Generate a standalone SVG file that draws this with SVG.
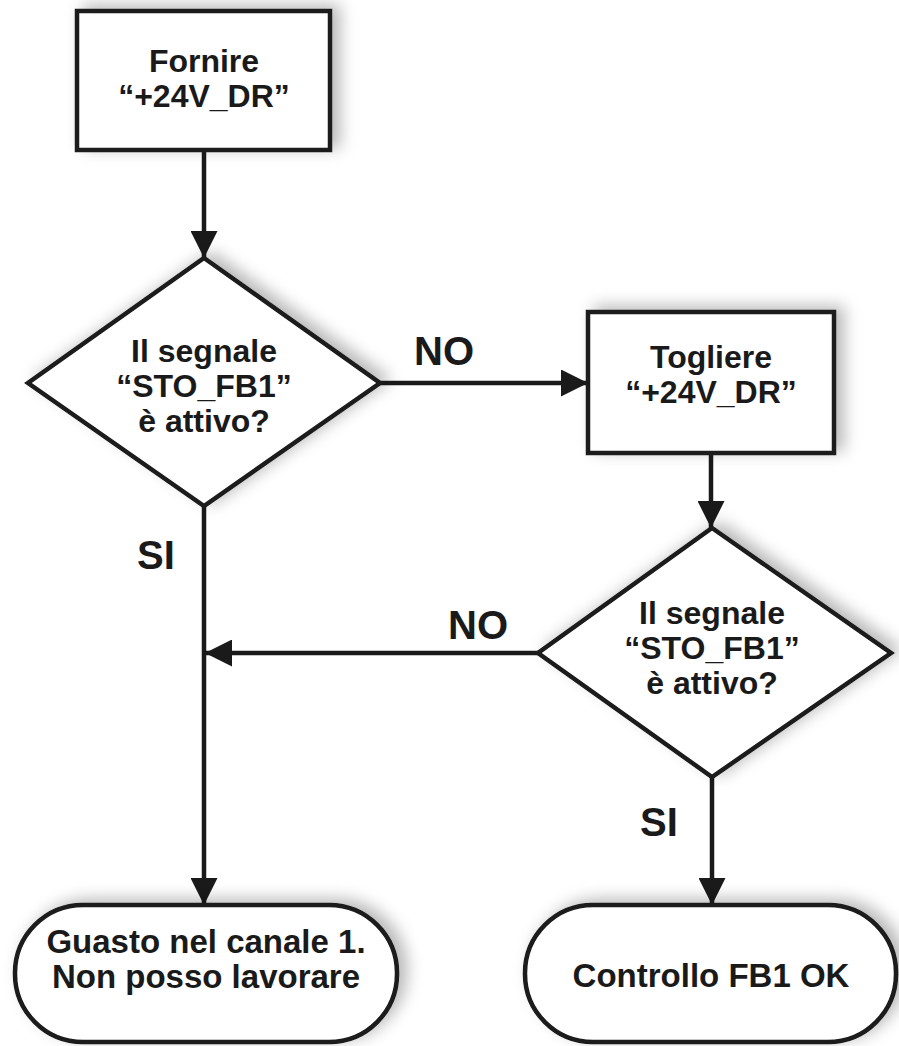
<svg xmlns="http://www.w3.org/2000/svg" width="899" height="1046" viewBox="0 0 899 1046">
<defs>
<filter id="sh" x="-20%" y="-20%" width="140%" height="140%">
<feDropShadow dx="8" dy="-4" stdDeviation="8" flood-color="#000" flood-opacity="0.28"/>
</filter>
<marker id="ah" markerUnits="userSpaceOnUse" markerWidth="27" markerHeight="27" viewBox="0 0 24 24" refX="24" refY="12" orient="auto">
<path d="M0,0 L24,12 L0,24 z" fill="#1a1a1a"/>
</marker>
<style>
.shape{fill:#fff;stroke:#1a1a1a;stroke-width:4.5;filter:url(#sh)}
.t{font-family:"Liberation Sans",Arial,sans-serif;font-weight:bold;font-size:32px;fill:#1a1a1a;text-anchor:middle}
.tt{font-size:33px}
.lbl{font-family:"Liberation Sans",Arial,sans-serif;font-weight:bold;font-size:40px;fill:#1a1a1a;text-anchor:middle}
.c{stroke:#1a1a1a;stroke-width:4.5;fill:none;marker-end:url(#ah)}
</style>
</defs>
<rect width="899" height="1046" fill="#fff"/>
<g id="connectors">
<line class="c" x1="204" y1="150" x2="204" y2="258"/>
<line class="c" x1="380" y1="383" x2="588" y2="383"/>
<line class="c" x1="711" y1="453" x2="711" y2="528"/>
<line class="c" x1="538" y1="653" x2="205" y2="653"/>
<line class="c" x1="204" y1="506" x2="204" y2="905"/>
<line class="c" x1="712" y1="777" x2="712" y2="905"/>
<text class="lbl" x="444" y="365">NO</text>
<text class="lbl" x="478" y="639">NO</text>
<text class="lbl" x="156" y="569">SI</text>
<text class="lbl" x="659" y="836">SI</text>
</g>
<g id="fornire">
<rect class="shape" x="77" y="11" width="253" height="139"/>
<text class="t" x="204" y="72">Fornire</text>
<text class="t" x="204" y="107">“+24V_DR”</text>
</g>
<g id="decision1">
<polygon class="shape" points="204,258 380,383 204,506 28,383"/>
<text class="t" x="204" y="362">Il segnale</text>
<text class="t" x="204" y="397">“STO_FB1”</text>
<text class="t" x="204" y="432">è attivo?</text>
</g>
<g id="togliere">
<rect class="shape" x="588" y="312" width="246" height="141"/>
<text class="t" x="711" y="368">Togliere</text>
<text class="t" x="711" y="403">“+24V_DR”</text>
</g>
<g id="decision2">
<polygon class="shape" points="712,528 891,653 712,777 538,653"/>
<text class="t" x="712" y="624">Il segnale</text>
<text class="t" x="712" y="659">“STO_FB1”</text>
<text class="t" x="712" y="694">è attivo?</text>
</g>
<g id="guasto">
<rect class="shape" x="15" y="905" width="382" height="137" rx="68" ry="68"/>
<text class="t tt" x="206" y="953">Guasto nel canale 1.</text>
<text class="t tt" x="206" y="988">Non posso lavorare</text>
</g>
<g id="ok">
<rect class="shape" x="525" y="905" width="371" height="137" rx="68" ry="68"/>
<text class="t tt" x="711" y="987">Controllo FB1 OK</text>
</g>
</svg>
